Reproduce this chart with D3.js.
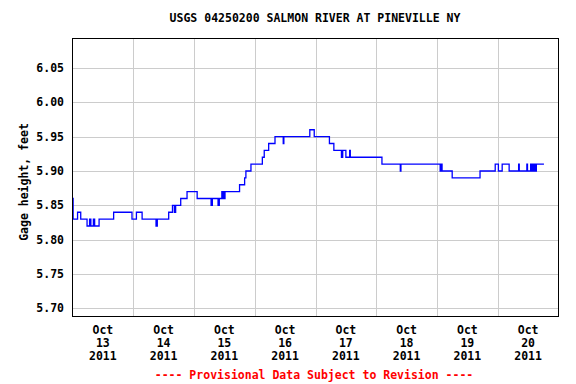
<!DOCTYPE html>
<html><head><meta charset="utf-8">
<script src="https://cdn.jsdelivr.net/npm/d3@7"></script>
<style>html,body{margin:0;padding:0;background:#fff;}svg{display:block;}</style>
</head><body>
<svg id="chart" width="576" height="384"></svg>
<script>
const chartTitle = "USGS 04250200 SALMON RIVER AT PINEVILLE NY";
const yAxisTitle = "Gage height, feet";
const footnote = "---- Provisional Data Subject to Revision ----";
const yTicks = [5.70, 5.75, 5.80, 5.85, 5.90, 5.95, 6.00, 6.05];
const dayLabels = ["13", "14", "15", "16", "17", "18", "19", "20"];
const times = [
 "2011-10-13 00:00","2011-10-13 00:15","2011-10-13 02:00","2011-10-13 03:15","2011-10-13 05:45","2011-10-13 06:45",
 "2011-10-13 07:15","2011-10-13 08:15","2011-10-13 08:45","2011-10-13 10:30","2011-10-13 16:15","2011-10-13 23:30",
 "2011-10-14 01:15","2011-10-14 03:30","2011-10-14 09:00","2011-10-14 09:30","2011-10-14 14:00","2011-10-14 15:30",
 "2011-10-14 16:15","2011-10-14 16:45","2011-10-14 18:45","2011-10-14 21:15","2011-10-15 01:15","2011-10-15 06:45",
 "2011-10-15 07:15","2011-10-15 09:30","2011-10-15 10:00","2011-10-15 11:00","2011-10-15 11:15","2011-10-15 11:30",
 "2011-10-15 11:45","2011-10-15 12:15","2011-10-15 18:00","2011-10-15 20:00","2011-10-15 20:30","2011-10-15 22:30",
 "2011-10-16 03:00","2011-10-16 03:45","2011-10-16 05:30","2011-10-16 08:00","2011-10-16 11:15","2011-10-16 11:30",
 "2011-10-16 21:45","2011-10-16 23:30","2011-10-17 05:30","2011-10-17 07:15","2011-10-17 10:15","2011-10-17 10:45",
 "2011-10-17 12:00","2011-10-17 13:30","2011-10-17 13:45","2011-10-18 02:15","2011-10-18 09:30","2011-10-18 09:45",
 "2011-10-19 01:15","2011-10-19 01:30","2011-10-19 02:00","2011-10-19 06:00","2011-10-19 17:00","2011-10-19 23:00",
 "2011-10-20 00:15","2011-10-20 01:45","2011-10-20 04:30","2011-10-20 08:15","2011-10-20 08:30","2011-10-20 11:30",
 "2011-10-20 11:45","2011-10-20 13:00","2011-10-20 13:15","2011-10-20 13:45","2011-10-20 14:00","2011-10-20 14:30",
 "2011-10-20 14:45","2011-10-20 15:15","2011-10-20 18:15"
];
const gageHeight = [
 5.86,5.83,5.84,5.83,5.82,5.83,
 5.82,5.83,5.82,5.83,5.84,5.83,
 5.84,5.83,5.82,5.83,5.84,5.85,
 5.84,5.85,5.86,5.87,5.86,5.85,
 5.86,5.85,5.86,5.87,5.86,5.87,
 5.86,5.87,5.88,5.89,5.90,5.91,
 5.92,5.93,5.94,5.95,5.94,5.95,
 5.96,5.95,5.94,5.93,5.92,5.93,
 5.92,5.93,5.92,5.91,5.90,5.91,
 5.90,5.91,5.90,5.89,5.90,5.91,
 5.90,5.91,5.90,5.91,5.90,5.91,
 5.90,5.91,5.90,5.91,5.90,5.91,
 5.90,5.91,5.91
];

const parse = d3.utcParse("%Y-%m-%d %H:%M");
const data = times.map((t, i) => ({t: parse(t), v: gageHeight[i]}));

const L = 72.5, R = 558.5, T = 38.5, B = 316.5;
const font = "'DejaVu Sans Mono', monospace";
const svg = d3.select("#chart");

const x = d3.scaleUtc()
  .domain([parse("2011-10-13 00:00"), parse("2011-10-21 00:00")])
  .range([L, R]);
const y = d3.scaleLinear().domain([5.6883, 6.0928]).range([B, T]);

// grid
const g = svg.append("g");
const days = d3.utcDay.range(parse("2011-10-14 00:00"), parse("2011-10-21 00:00"));
g.selectAll("line.vg").data(days).join("line")
  .attr("x1", d => Math.round(x(d)) + 0.5).attr("x2", d => Math.round(x(d)) + 0.5)
  .attr("y1", T).attr("y2", B).attr("stroke", "#cccccc").attr("stroke-width", 1);
g.selectAll("line.hg").data(yTicks).join("line")
  .attr("x1", L).attr("x2", R)
  .attr("y1", d => Math.round(y(d)) + 0.5).attr("y2", d => Math.round(y(d)) + 0.5)
  .attr("stroke", "#cccccc").attr("stroke-width", 1);

// data line
const line = d3.line().x(d => x(d.t)).y(d => y(d.v)).curve(d3.curveStepAfter);
svg.append("path").datum(data).attr("d", line)
  .attr("fill", "none").attr("stroke", "#0000ff").attr("stroke-width", 1.3);

// frame
svg.append("rect").attr("x", L).attr("y", T).attr("width", R - L).attr("height", B - T)
  .attr("fill", "none").attr("stroke", "#000").attr("stroke-width", 1);

// y axis labels
svg.selectAll("text.yt").data(yTicks).join("text")
  .attr("x", 64).attr("y", d => y(d) + 4)
  .attr("text-anchor", "end").attr("font-family", font).attr("font-weight", "bold")
  .attr("font-size", 11.5).attr("fill", "#000")
  .text(d => d3.format(".2f")(d));

// x axis labels
const noons = dayLabels.map(d => parse("2011-10-" + d + " 12:00"));
const xl = svg.selectAll("text.xt").data(noons).join("text")
  .attr("text-anchor", "middle").attr("font-family", font).attr("font-weight", "bold")
  .attr("font-size", 11.5).attr("fill", "#000");
xl.each(function(d, i) {
  const t = d3.select(this);
  const cx = x(d);
  ["Oct", dayLabels[i], "2011"].forEach((s, k) => {
    t.append("tspan").attr("x", cx).attr("y", 334 + k * 13).text(s);
  });
});

// titles
svg.append("text").attr("x", 315).attr("y", 22).attr("text-anchor", "middle")
  .attr("font-family", font).attr("font-weight", "bold").attr("font-size", 11.5)
  .text(chartTitle);
svg.append("text").attr("transform", "translate(28,182) rotate(-90)").attr("text-anchor", "middle")
  .attr("font-family", font).attr("font-weight", "bold").attr("font-size", 11.5)
  .text(yAxisTitle);
svg.append("text").attr("x", 314).attr("y", 379).attr("text-anchor", "middle")
  .attr("font-family", font).attr("font-weight", "bold").attr("font-size", 11.5)
  .attr("fill", "#ff0000").text(footnote);
</script>
</body></html>
